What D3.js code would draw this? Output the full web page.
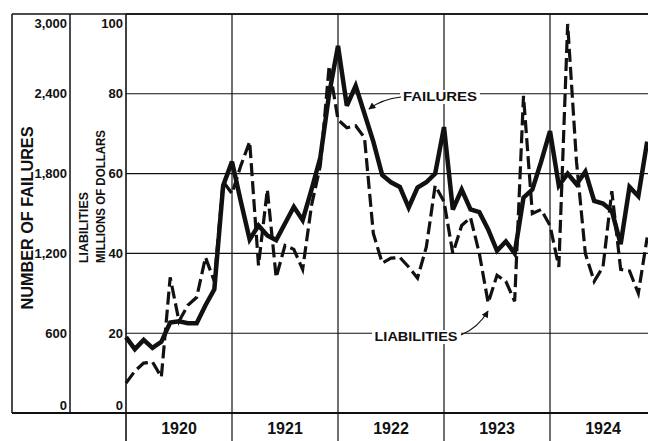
<!DOCTYPE html>
<html>
<head>
<meta charset="utf-8">
<script src="https://cdn.jsdelivr.net/npm/d3@7"></script>
<style>
  html, body { margin: 0; padding: 0; background: #fff; }
  svg { display: block; }
  text { font-family: "Liberation Sans", Arial, sans-serif; font-weight: bold; fill: #111; }
</style>
</head>
<body>
<svg id="chart" width="648" height="441"></svg>
<script>
// ---- data (monthly, Jan 1920 - Dec 1924) ----
const years = ["1920", "1921", "1922", "1923", "1924"];
const failureTicks = [0, 600, 1200, 1800, 2400, 3000];
const liabilityTicks = [0, 20, 40, 60, 80, 100];
const failures = [
  570, 480, 550, 490, 535, 680, 690, 675, 675, 810, 930, 1710,
  1890, 1590, 1305, 1410, 1335, 1300, 1425, 1550, 1450, 1680, 1920, 2400,
  2760, 2310, 2460, 2250, 2040, 1790, 1735, 1700, 1545, 1695, 1735, 1800,
  2150, 1530, 1680, 1530, 1510, 1380, 1220, 1290, 1200, 1620, 1680, 1890,
  2120, 1710, 1800, 1720, 1815, 1595, 1575, 1520, 1270, 1700, 1630, 2040
];
const liabilities = [
  7.5, 10.5, 12.5, 12.8, 9, 34, 23, 27, 29, 39, 33, 58,
  55, 62, 68, 37, 56, 34, 42, 41, 36, 52, 62, 87,
  73.5, 71.5, 72, 69, 45, 37.6, 38.8, 39, 36.6, 33.8, 41.6, 57,
  53, 40, 47, 49, 40, 27.6, 34.5, 33, 28, 79.5, 50, 51,
  47, 36.6, 97.5, 63, 40, 33, 36.6, 55.6, 36, 35.6, 30, 44
];

// ---- layout ----
const svg = d3.select("#chart");
const W = 648, H = 441;
const plotL = 126, plotT = 14, plotB = 413, plotR = 648;
const panel1L = 12, panel2L = 70;

const x = d3.scaleLinear().domain([0, 48]).range([plotL, 550]);
const yLiab = d3.scaleLinear().domain([0, 100]).range([plotB, plotT]);
const yFail = d3.scaleLinear().domain([0, 3000]).range([plotB, plotT]);

const ink = "#111";

// horizontal grid lines (plot area)
svg.append("g").selectAll("line").data(liabilityTicks).join("line")
  .attr("x1", plotL).attr("x2", plotR)
  .attr("y1", d => yLiab(d)).attr("y2", d => yLiab(d))
  .attr("stroke", ink).attr("stroke-width", d => (d === 0 || d === 100) ? 1.6 : 1.1);

// top & bottom borders spanning the left panels
svg.append("line").attr("x1", panel1L).attr("x2", plotR)
  .attr("y1", plotT).attr("y2", plotT).attr("stroke", ink).attr("stroke-width", 1.6);
svg.append("line").attr("x1", panel1L).attr("x2", plotR)
  .attr("y1", plotB).attr("y2", plotB).attr("stroke", ink).attr("stroke-width", 1.8);

// panel vertical borders
[panel1L, panel2L].forEach(px => {
  svg.append("line").attr("x1", px).attr("x2", px)
    .attr("y1", plotT).attr("y2", plotB).attr("stroke", ink).attr("stroke-width", 1.5);
});

// year dividers (extend below axis)
const yearIdx = years.map((d, i) => i * 12);
svg.append("g").selectAll("line").data(yearIdx).join("line")
  .attr("x1", d => x(d)).attr("x2", d => x(d))
  .attr("y1", plotT).attr("y2", H)
  .attr("stroke", ink).attr("stroke-width", d => d === 0 ? 1.6 : 1.2);

// year labels
svg.append("g").selectAll("text").data(years).join("text")
  .attr("x", (d, i) => x(i * 12 + 6))
  .attr("y", 434)
  .attr("text-anchor", "middle")
  .attr("font-size", 16)
  .text(d => d);

// left tick labels
function tickY(scale, d, max) {
  const yy = scale(d);
  if (d === 0) return yy - 8;
  if (d === max) return yy + 9;
  return yy;
}
svg.append("g").selectAll("text").data(failureTicks).join("text")
  .attr("x", 67)
  .attr("y", d => tickY(yFail, d, 3000))
  .attr("dy", "0.35em")
  .attr("text-anchor", "end")
  .attr("font-size", 13)
  .text(d => d3.format(",")(d));

svg.append("g").selectAll("text").data(liabilityTicks).join("text")
  .attr("x", 123)
  .attr("y", d => tickY(yLiab, d, 100))
  .attr("dy", "0.35em")
  .attr("text-anchor", "end")
  .attr("font-size", 13)
  .text(d => d);

// axis titles (rotated)
svg.append("text")
  .attr("transform", "translate(33,218) rotate(-90)")
  .attr("text-anchor", "middle")
  .attr("font-size", 16)
  .attr("textLength", 183).attr("lengthAdjust", "spacingAndGlyphs")
  .text("NUMBER OF FAILURES");
svg.append("text")
  .attr("transform", "translate(88,263) rotate(-90)")
  .attr("text-anchor", "start")
  .attr("font-size", 13)
  .attr("textLength", 71).attr("lengthAdjust", "spacingAndGlyphs")
  .text("LIABILITIES");
svg.append("text")
  .attr("transform", "translate(105,263) rotate(-90)")
  .attr("text-anchor", "start")
  .attr("font-size", 13)
  .attr("textLength", 133).attr("lengthAdjust", "spacingAndGlyphs")
  .text("MILLIONS OF DOLLARS");

// series lines
const lineLiab = d3.line().x((d, i) => x(i)).y(d => yLiab(d));
const lineFail = d3.line().x((d, i) => x(i)).y(d => yFail(d));

svg.append("path").datum(liabilities)
  .attr("d", lineLiab)
  .attr("fill", "none").attr("stroke", ink)
  .attr("stroke-width", 3.2).attr("stroke-dasharray", "13,5")
  .attr("stroke-linejoin", "miter");

svg.append("path").datum(failures)
  .attr("d", lineFail)
  .attr("fill", "none").attr("stroke", ink)
  .attr("stroke-width", 4.5)
  .attr("stroke-linejoin", "miter").attr("stroke-miterlimit", 3);

// arrow marker
const defs = svg.append("defs");
defs.append("marker").attr("id", "arr")
  .attr("viewBox", "0 0 10 10").attr("refX", 9).attr("refY", 5)
  .attr("markerWidth", 9).attr("markerHeight", 7)
  .attr("markerUnits", "userSpaceOnUse")
  .attr("orient", "auto")
  .append("path").attr("d", "M0,0 L10,5 L0,10 Z").attr("fill", ink);

// FAILURES annotation
const fLab = svg.append("g");
fLab.append("rect").attr("x", 400).attr("y", 90).attr("width", 80).attr("height", 14).attr("fill", "#fff");
fLab.append("text").attr("x", 440).attr("y", 97).attr("dy", "0.35em")
  .attr("text-anchor", "middle").attr("font-size", 12)
  .attr("textLength", 74).attr("lengthAdjust", "spacingAndGlyphs")
  .text("FAILURES");
svg.append("path").attr("d", "M401,97 Q382,99 369,109")
  .attr("fill", "none").attr("stroke", ink).attr("stroke-width", 1.2)
  .attr("marker-end", "url(#arr)");

// LIABILITIES annotation
const lLab = svg.append("g");
lLab.append("rect").attr("x", 372).attr("y", 330).attr("width", 89).attr("height", 14).attr("fill", "#fff");
lLab.append("text").attr("x", 416).attr("y", 337).attr("dy", "0.35em")
  .attr("text-anchor", "middle").attr("font-size", 12)
  .attr("textLength", 83).attr("lengthAdjust", "spacingAndGlyphs")
  .text("LIABILITIES");
svg.append("path").attr("d", "M461,335 Q478,328 488,311")
  .attr("fill", "none").attr("stroke", ink).attr("stroke-width", 1.2)
  .attr("marker-end", "url(#arr)");
</script>
</body>
</html>
